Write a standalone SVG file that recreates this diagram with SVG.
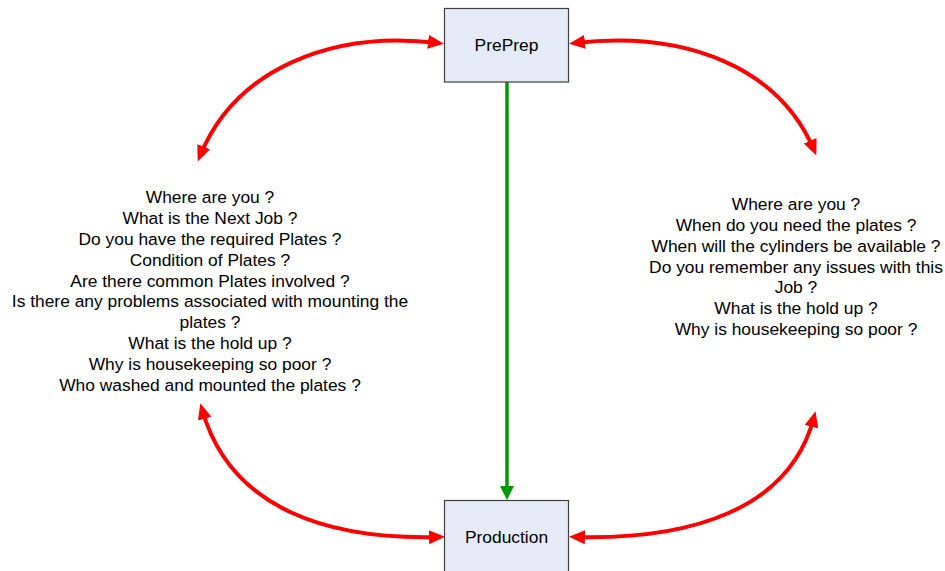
<svg xmlns="http://www.w3.org/2000/svg" width="945" height="571" viewBox="0 0 945 571">
<defs>
<style>
.box{fill:#e6ecf7;stroke:#404040;stroke-width:1.2}
.lbl{font-family:"Liberation Sans",Arial,sans-serif;font-size:17.4px;fill:#000;text-anchor:middle}
.red{fill:none;stroke:#ff0000;stroke-width:4}
.grn{fill:none;stroke:#009900;stroke-width:3.5}
</style>
<marker id="ar" viewBox="0 0 16 14" markerUnits="userSpaceOnUse" markerWidth="16" markerHeight="14" refX="10" refY="7" orient="auto-start-reverse">
<path d="M0,0 L16,7 L0,14 z" fill="#ff0000"/>
</marker>
<marker id="ag" viewBox="0 0 14 14" markerUnits="userSpaceOnUse" markerWidth="14" markerHeight="14" refX="8" refY="7" orient="auto">
<path d="M0,0 L14,7 L0,14 z" fill="#009900"/>
</marker>
</defs>
<g id="connectors">
<path class="red" d="M438,43 C330,30 235,70 200,156" marker-start="url(#ar)" marker-end="url(#ar)"/>
<path class="red" d="M575,43 C690,30 780,70 814,150" marker-start="url(#ar)" marker-end="url(#ar)"/>
<path class="red" d="M202,409 C230,510 330,540 439,537" marker-start="url(#ar)" marker-end="url(#ar)"/>
<path class="red" d="M575,537 C690,540 790,510 814,417" marker-start="url(#ar)" marker-end="url(#ar)"/>
<path class="grn" d="M507,82 L507,494" marker-end="url(#ag)"/>
</g>
<g id="preprep">
<rect class="box" x="444.5" y="8.5" width="124" height="73.5"/>
<text class="lbl" x="506.5" y="51">PrePrep</text>
</g>
<g id="production">
<rect class="box" x="444.5" y="500.5" width="124" height="75"/>
<text class="lbl" x="506.5" y="543">Production</text>
</g>
<g id="left-questions">
<text class="lbl" x="210" y="203">Where are you ?</text>
<text class="lbl" x="210" y="224">What is the Next Job ?</text>
<text class="lbl" x="210" y="245">Do you have the required Plates ?</text>
<text class="lbl" x="210" y="266">Condition of Plates ?</text>
<text class="lbl" x="210" y="287">Are there common Plates involved ?</text>
<text class="lbl" x="210" y="307">Is there any problems associated with mounting the</text>
<text class="lbl" x="210" y="328">plates ?</text>
<text class="lbl" x="210" y="349">What is the hold up ?</text>
<text class="lbl" x="210" y="370">Why is housekeeping so poor ?</text>
<text class="lbl" x="210" y="391">Who washed and mounted the plates ?</text>
</g>
<g id="right-questions">
<text class="lbl" x="796" y="210">Where are you ?</text>
<text class="lbl" x="796" y="231">When do you need the plates ?</text>
<text class="lbl" x="796" y="252">When will the cylinders be available ?</text>
<text class="lbl" x="796" y="273">Do you remember any issues with this</text>
<text class="lbl" x="796" y="293">Job ?</text>
<text class="lbl" x="796" y="314">What is the hold up ?</text>
<text class="lbl" x="796" y="335">Why is housekeeping so poor ?</text>
</g>
</svg>
